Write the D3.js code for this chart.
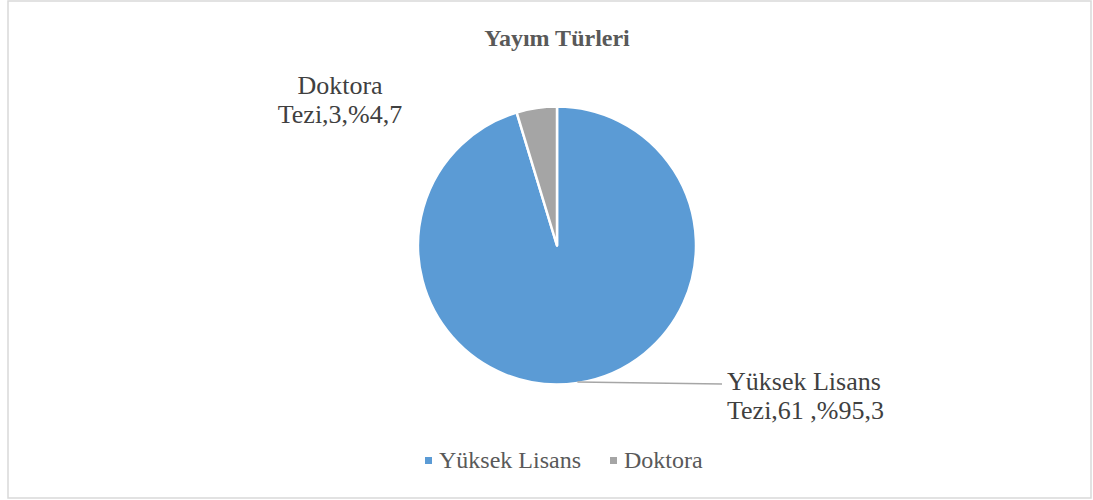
<!DOCTYPE html>
<html>
<head>
<meta charset="utf-8">
<script src="https://cdn.jsdelivr.net/npm/d3@7"></script>
<style>
  body { margin: 0; background: #fff; }
</style>
</head>
<body>
<svg width="1093" height="500"></svg>
<script>
const categories = ['Yüksek Lisans', 'Doktora'];
const counts = [61, 3];
const labelLines = [
  ['Yüksek Lisans', 'Tezi,61 ,%95,3'],
  ['Doktora', 'Tezi,3,%4,7'],
];
const colors = ['#5b9bd5', '#a5a5a5'];
const title = 'Yayım Türleri';

const FONT = "'Liberation Serif', 'Times New Roman', Times, 'DejaVu Serif', serif";

const svg = d3.select('svg').attr('font-family', FONT);
const cx = 557;
const cy = 245.5;
const radius = 139;

// chart border
svg
  .append('rect')
  .attr('x', 8)
  .attr('y', 1)
  .attr('width', 1083)
  .attr('height', 497)
  .attr('fill', 'none')
  .attr('stroke', '#d9d9d9')
  .attr('stroke-width', 1.5);

svg
  .append('text')
  .text(title)
  .attr('x', cx)
  .attr('y', 46)
  .attr('text-anchor', 'middle')
  .attr('font-family', FONT)
  .attr('font-size', 24)
  .attr('font-weight', 'bold')
  .attr('fill', '#595959');

const pie = d3.pie().sort(null).value((d) => d);
const arcs = pie(counts);
const arc = d3.arc().innerRadius(0).outerRadius(radius);

const chart = svg.append('g').attr('transform', `translate(${cx}, ${cy})`);

chart
  .selectAll('.slice')
  .data(arcs)
  .enter()
  .append('path')
  .classed('slice', true)
  .attr('d', arc)
  .attr('fill', (d, i) => colors[i])
  .attr('stroke', '#fff')
  .attr('stroke-width', 2.5)
  .attr('stroke-linejoin', 'round');

// leader line for the big slice
const leadAngle = arcs[0].startAngle + (arcs[0].endAngle - arcs[0].startAngle) * 0.5;
const lp = [Math.sin(leadAngle) * radius, -Math.cos(leadAngle) * radius];
chart
  .append('line')
  .attr('x1', lp[0])
  .attr('y1', lp[1] - 1)
  .attr('x2', 722 - cx)
  .attr('y2', 384 - cy)
  .attr('stroke', '#a6a6a6')
  .attr('stroke-width', 1.5);

// data labels
const labelPos = [
  { x: 727, y: 390, anchor: 'start' },
  { x: 340, y: 94, anchor: 'middle' },
];
labelLines.forEach((lines, i) => {
  const t = svg
    .append('text')
    .attr('x', labelPos[i].x)
    .attr('y', labelPos[i].y)
    .attr('text-anchor', labelPos[i].anchor)
    .attr('font-family', FONT)
    .attr('font-size', 26)
    .attr('fill', '#404040');
  lines.forEach((line, j) => {
    t.append('tspan')
      .attr('x', labelPos[i].x)
      .attr('dy', j === 0 ? 0 : 29)
      .text(line);
  });
});

// legend
const legendX = [425, 610];
const legend = svg
  .selectAll('.legend')
  .data(categories)
  .enter()
  .append('g')
  .classed('legend', true)
  .attr('transform', (d, i) => `translate(${legendX[i]}, 468)`);

legend
  .append('rect')
  .attr('x', 0)
  .attr('y', -11)
  .attr('width', 7)
  .attr('height', 7)
  .attr('fill', (d, i) => colors[i]);

legend
  .append('text')
  .text((d) => d)
  .attr('x', 14)
  .attr('y', 0)
  .attr('font-family', FONT)
  .attr('font-size', 24)
  .attr('fill', '#595959');
</script>
</body>
</html>
